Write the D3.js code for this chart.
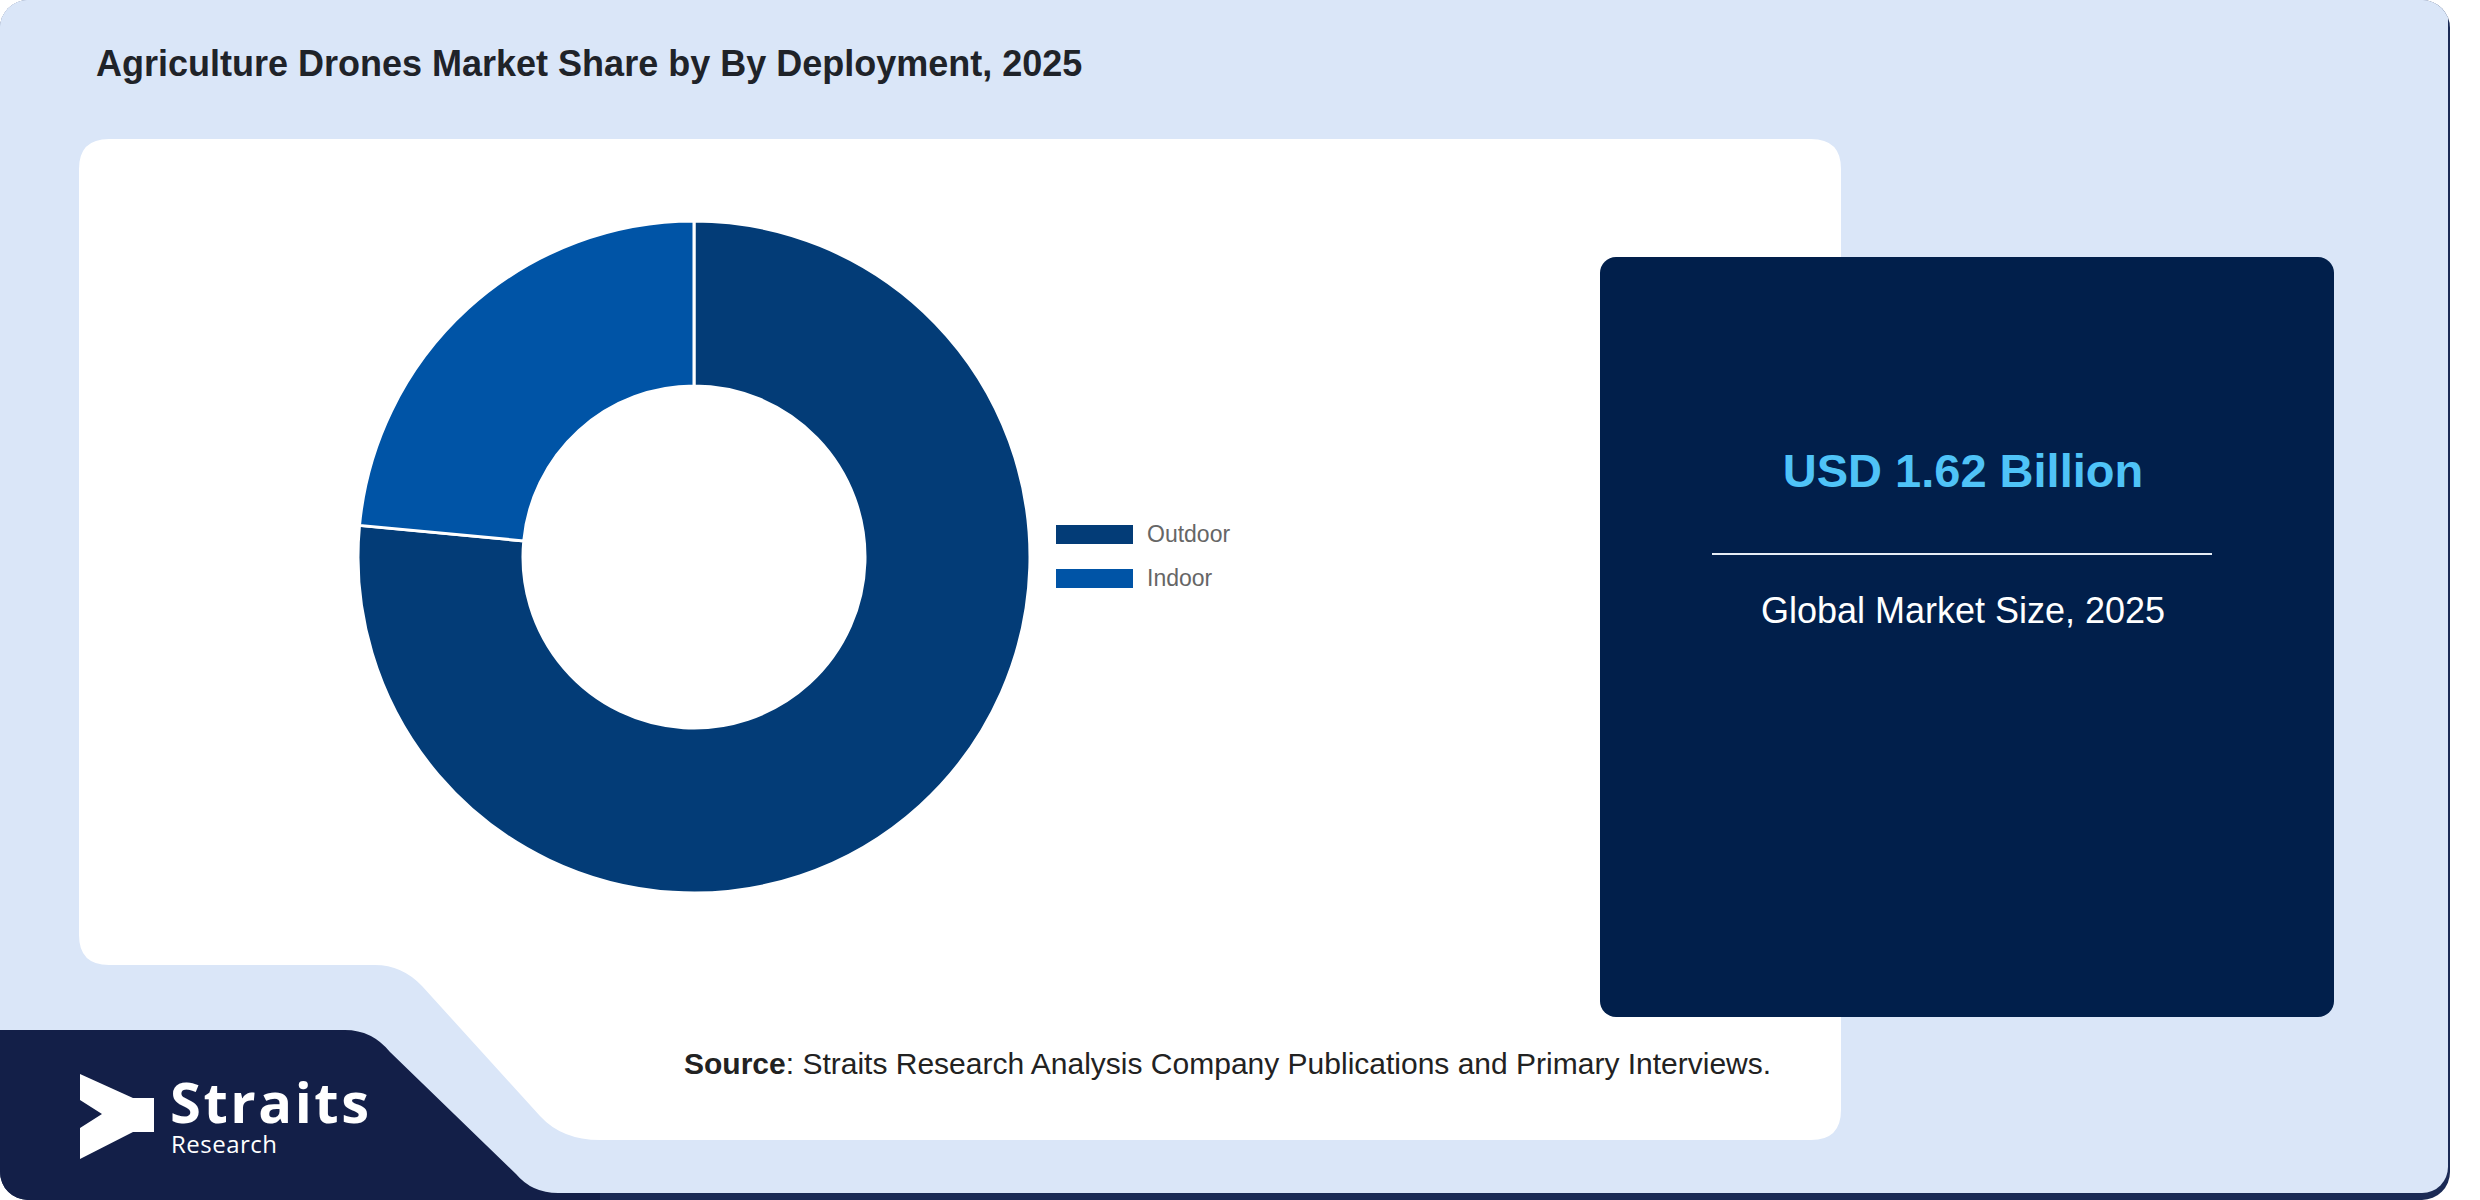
<!DOCTYPE html>
<html>
<head>
<meta charset="utf-8">
<title>Agriculture Drones Market Share</title>
<style>
  body { margin: 0; background: #fff; }
  svg { display: block; font-family: "Liberation Sans", Arial, sans-serif; }
</style>
</head>
<body>
<svg width="2480" height="1200"></svg>
<script src="https://cdn.jsdelivr.net/npm/d3@7"></script>
<script>
    // chart data
    var categories = ["Outdoor", "Indoor"];
    var shares = [76.5, 23.5];
    var colors = ["#033c77", "#0054a6"];

    var titleText = "Agriculture Drones Market Share by By Deployment, 2025";
    var marketValue = "USD 1.62 Billion";
    var marketLabel = "Global Market Size, 2025";

    var svg = d3.select("svg");

    // clip for the rounded page background
    svg.append("defs").append("clipPath")
        .attr("id", "page")
      .append("rect")
        .attr("x", 0).attr("y", 0)
        .attr("width", 2450).attr("height", 1200)
        .attr("rx", 28);

    var page = svg.append("g").attr("clip-path", "url(#page)");

    // dark edge under the page (shows as thin strip at bottom / right)
    page.append("rect")
        .attr("width", 2450).attr("height", 1200)
        .attr("fill", "#1a2a55");

    page.append("rect")
        .attr("width", 2448).attr("height", 1193)
        .attr("rx", 26)
        .attr("fill", "#dae6f8");
    page.append("rect")
        .attr("width", 2448).attr("height", 1000)
        .attr("fill", "#dae6f8");

    // white card with the cut-out corner at bottom left
    page.append("path")
        .attr("fill", "#fff")
        .attr("d", "M109,139 L1811,139 Q1841,139 1841,169 L1841,1110 Q1841,1140 1811,1140" +
                   " L600,1140 Q562,1140 540,1116 L422,986 Q402,965 375,965 L109,965" +
                   " Q79,965 79,935 L79,169 Q79,139 109,139 Z");

    // navy logo band
    page.append("path")
        .attr("fill", "#131f48")
        .attr("d", "M0,1030 L345,1030 Q372,1030 390,1052 L516,1174 Q532,1193 558,1193" +
                   " L600,1193 L600,1200 L0,1200 Z");

    // title
    svg.append("text")
        .attr("x", 96).attr("y", 76)
        .attr("font-size", 36)
        .attr("font-weight", "bold")
        .attr("fill", "#1f2329")
        .text(titleText);

    // donut
    var cx = 694, cy = 557;
    var pie = d3.pie().sort(null).value(function(d) { return d; });
    var arc = d3.arc().innerRadius(171).outerRadius(336);

    var donut = svg.append("g").attr("transform", "translate(" + cx + "," + cy + ")");
    donut.selectAll("path")
        .data(pie(shares))
        .enter().append("path")
            .attr("d", arc)
            .attr("fill", function(d, i) { return colors[i]; })
            .attr("stroke", "#fff")
            .attr("stroke-width", 3);

    // legend
    var legend = svg.append("g").attr("transform", "translate(1056,525)");
    var item = legend.selectAll("g")
        .data(categories)
        .enter().append("g")
            .attr("transform", function(d, i) { return "translate(0," + (i * 44) + ")"; });
    item.append("rect")
        .attr("width", 77).attr("height", 19)
        .attr("fill", function(d, i) { return colors[i]; });
    item.append("text")
        .attr("x", 91).attr("y", 17)
        .attr("font-size", 23)
        .attr("fill", "#666")
        .text(function(d) { return d; });

    // market size box
    svg.append("rect")
        .attr("x", 1600).attr("y", 257)
        .attr("width", 734).attr("height", 760)
        .attr("rx", 16)
        .attr("fill", "#011f4b");

    svg.append("text")
        .attr("x", 1963).attr("y", 487)
        .attr("text-anchor", "middle")
        .attr("font-size", 47)
        .attr("font-weight", "bold")
        .attr("fill", "#4fc3f7")
        .text(marketValue);

    svg.append("line")
        .attr("x1", 1712).attr("x2", 2212)
        .attr("y1", 554).attr("y2", 554)
        .attr("stroke", "#e6edf5")
        .attr("stroke-width", 2);

    svg.append("text")
        .attr("x", 1963).attr("y", 623)
        .attr("text-anchor", "middle")
        .attr("font-size", 36)
        .attr("fill", "#fff")
        .text(marketLabel);

    // source line
    var source = svg.append("text")
        .attr("x", 684).attr("y", 1074)
        .attr("font-size", 30)
        .attr("fill", "#222");
    source.append("tspan").attr("font-weight", "bold").text("Source");
    source.append("tspan").text(": Straits Research Analysis Company Publications and Primary Interviews.");

    // logo
    var logo = svg.append("g");
    logo.append("path")
        .attr("fill", "#fff")
        .attr("d", "M80,1074 L133,1098 L154,1098 L154,1132 L133,1132 L80,1159 L80,1128 L102,1114 L80,1100 Z");
    var brand = logo.append("text")
        .attr("font-family", "'Open Sans', sans-serif")
        .attr("fill", "#fff");
    brand.append("tspan")
        .attr("x", 170).attr("y", 1123)
        .attr("font-size", 56)
        .attr("font-weight", "bold")
        .attr("textLength", 199)
        .text("Straits");
    brand.append("tspan")
        .attr("x", 171).attr("y", 1153)
        .attr("font-size", 24)
        .attr("textLength", 106)
        .text("Research");
</script>
</body>
</html>
